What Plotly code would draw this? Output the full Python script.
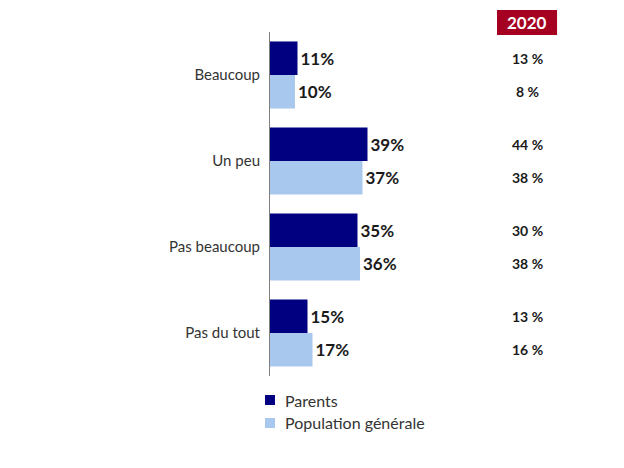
import plotly.graph_objects as go

categories = ["Beaucoup", "Un peu", "Pas beaucoup", "Pas du tout"]
parents = [11, 39, 35, 15]
population = [10, 37, 36, 17]
parents_2020 = ["13 %", "44 %", "30 %", "13 %"]
population_2020 = ["8 %", "38 %", "38 %", "16 %"]
series_names = ["Parents", "Population générale"]
year_label = "2020"

FONT = "Lato"
DARK = "#000080"
LIGHT = "#A9C8EE"
RED = "#A50021"
colors = [DARK, LIGHT]

fig = go.Figure()
for name, vals, col in zip(series_names, [parents, population], colors):
    fig.add_trace(go.Bar(
        y=categories, x=vals, orientation="h", name=name,
        marker=dict(color=col, line=dict(width=0)),
        text=[f"<b>{v}%</b>" for v in vals], textposition="outside",
        textfont=dict(family=FONT, size=17, color="#1a1a1a"), cliponaxis=False,
    ))

bargap = 0.22
off = (1 - bargap) / 4
annotations = []
for i in range(len(categories)):
    for txt, dy in ((parents_2020[i], -off), (population_2020[i], off)):
        annotations.append(dict(x=1.224, xref="paper", y=i + dy, yref="y",
                                xanchor="center", yanchor="middle",
                                text=f"<b>{txt}</b>", showarrow=False,
                                font=dict(family=FONT, size=14, color="#1a1a1a")))
annotations.append(dict(x=1.224, xref="paper", y=1.028, yref="paper",
                        xanchor="center", yanchor="middle",
                        text=f"<b>{year_label}</b>", showarrow=False,
                        font=dict(family=FONT, size=17, color="white")))

shapes = [dict(type="rect", xref="paper", yref="paper",
               x0=1.081, x1=1.367, y0=0.991, y1=1.064,
               fillcolor=RED, line=dict(width=0))]

# legend drawn manually
leg_y = [-0.0698, -0.1366]
for name, col, yc in zip(series_names, colors, leg_y):
    shapes.append(dict(type="rect", xref="paper", yref="paper",
                       x0=-0.0238, x1=0.0238, y0=yc - 0.0145, y1=yc + 0.0145,
                       fillcolor=col, line=dict(width=0)))
    annotations.append(dict(x=0.062, xref="paper", y=yc, yref="paper",
                            xanchor="left", yanchor="middle", text=name,
                            showarrow=False,
                            font=dict(family=FONT, size=16, color="#333333")))

fig.update_layout(
    width=624, height=468,
    margin=dict(l=270, r=144, t=32, b=92, autoexpand=False),
    paper_bgcolor="white", plot_bgcolor="white",
    barmode="group", bargap=bargap, bargroupgap=0,
    showlegend=False,
    xaxis=dict(range=[0, 84], visible=False, fixedrange=True),
    yaxis=dict(autorange="reversed", showline=True, linecolor="#808080",
               linewidth=1, ticks="", showgrid=False, ticklabelstandoff=6,
               fixedrange=True,
               tickfont=dict(family=FONT, size=15, color="#333333")),
    shapes=shapes,
    annotations=annotations,
)

fig.write_html("out.html", config={"displayModeBar": False},
               post_script="document.body.style.margin='0';")
